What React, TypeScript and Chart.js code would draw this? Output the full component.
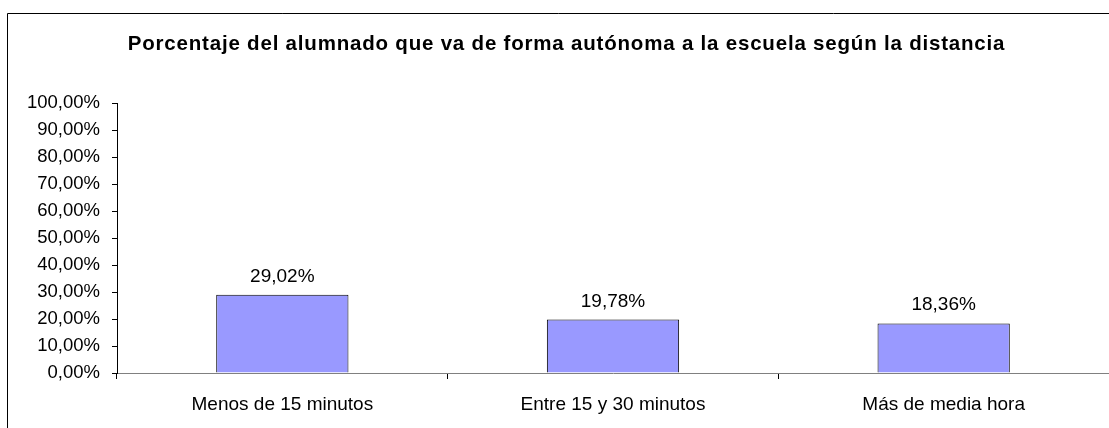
import React, { useEffect, useRef } from "react";
import { Chart, registerables } from "chart.js";

Chart.register(...registerables);

const TITLE = "Porcentaje del alumnado que va de forma autónoma a la escuela según la distancia";
const categories = ["Menos de 15 minutos", "Entre 15 y 30 minutos", "Más de media hora"];
const values = [29.02, 19.78, 18.36];
const valueLabels = ["29,02%", "19,78%", "18,36%"];
const yTicks = [0, 10, 20, 30, 40, 50, 60, 70, 80, 90, 100];

const FONT = "'Liberation Sans', Arial, sans-serif";

export default function App() {
  const ref = useRef<HTMLCanvasElement | null>(null);

  useEffect(() => {
    if (!ref.current) return;
    const framePlugin = {
      id: "frame",
      beforeDraw(chart: any) {
        const ctx = chart.ctx;
        ctx.save();
        ctx.fillStyle = "#ffffff";
        ctx.fillRect(0, 0, chart.width, chart.height);
        ctx.strokeStyle = "#000000";
        ctx.lineWidth = 1;
        ctx.beginPath();
        ctx.moveTo(7.5, chart.height);
        ctx.lineTo(7.5, 13.5);
        ctx.lineTo(chart.width, 13.5);
        ctx.stroke();
        ctx.fillStyle = "#000000";
        ctx.font = `bold 20.5px ${FONT}`;
        ctx.textAlign = "left";
        ctx.textBaseline = "alphabetic";
        try {
          (ctx as any).letterSpacing = "0.8px";
        } catch (e) {}
        const w = ctx.measureText(TITLE).width;
        ctx.fillText(TITLE, 566.5 - w / 2, 50);
        ctx.restore();
      },
    };
    const labelPlugin = {
      id: "valueLabels",
      afterDatasetsDraw(chart: any) {
        const ctx = chart.ctx;
        const meta = chart.getDatasetMeta(0);
        ctx.save();
        ctx.fillStyle = "#000000";
        ctx.font = `19px ${FONT}`;
        ctx.textAlign = "center";
        ctx.textBaseline = "alphabetic";
        meta.data.forEach((bar: any, i: number) => {
          ctx.fillText(valueLabels[i], bar.x, bar.y - 13);
        });
        ctx.restore();
      },
    };
    const chart = new Chart(ref.current, {
      type: "bar",
      data: {
        labels: categories,
        datasets: [
          {
            data: values,
            backgroundColor: "#9999FF",
            borderColor: "#000000",
            borderWidth: 1,
            barPercentage: 0.4,
            categoryPercentage: 1,
          },
        ],
      },
      options: {
        animation: false,
        responsive: false,
        devicePixelRatio: 1,
        layout: { padding: { top: 103, left: 0, right: 0, bottom: 0 } },
        plugins: {
          legend: { display: false },
          title: { display: false },
          tooltip: { enabled: false },
        },
        scales: {
          x: {
            offset: true,
            grid: {
              offset: true,
              drawOnChartArea: false,
              drawTicks: true,
              tickLength: 6,
              color: "#000000",
            },
            border: { color: "#808080", width: 1 },
            ticks: {
              color: "#000000",
              font: { family: FONT, size: 19 },
              padding: 14,
              maxRotation: 0,
              autoSkip: false,
            },
            afterFit(scale: any) {
              scale.height = 55;
            },
          },
          y: {
            min: 0,
            max: 100,
            afterBuildTicks(scale: any) {
              scale.ticks = yTicks.map((v) => ({ value: v }));
            },
            grid: {
              drawOnChartArea: false,
              drawTicks: true,
              tickLength: 5,
              color: "#000000",
            },
            border: { color: "#000000", width: 1 },
            ticks: {
              color: "#000000",
              font: { family: FONT, size: 18.5 },
              padding: 12,
              callback: (v: any) => `${Number(v).toFixed(2).replace(".", ",")}%`,
            },
            afterFit(scale: any) {
              scale.width = 117;
            },
          },
        },
      },
      plugins: [framePlugin, labelPlugin],
    });
    return () => chart.destroy();
  }, []);

  return (
    <div style={{ position: "fixed", left: 0, top: 0, width: 1109, height: 428, background: "#fff" }}>
      <canvas ref={ref} width={1109} height={428} style={{ display: "block" }} />
    </div>
  );
}
